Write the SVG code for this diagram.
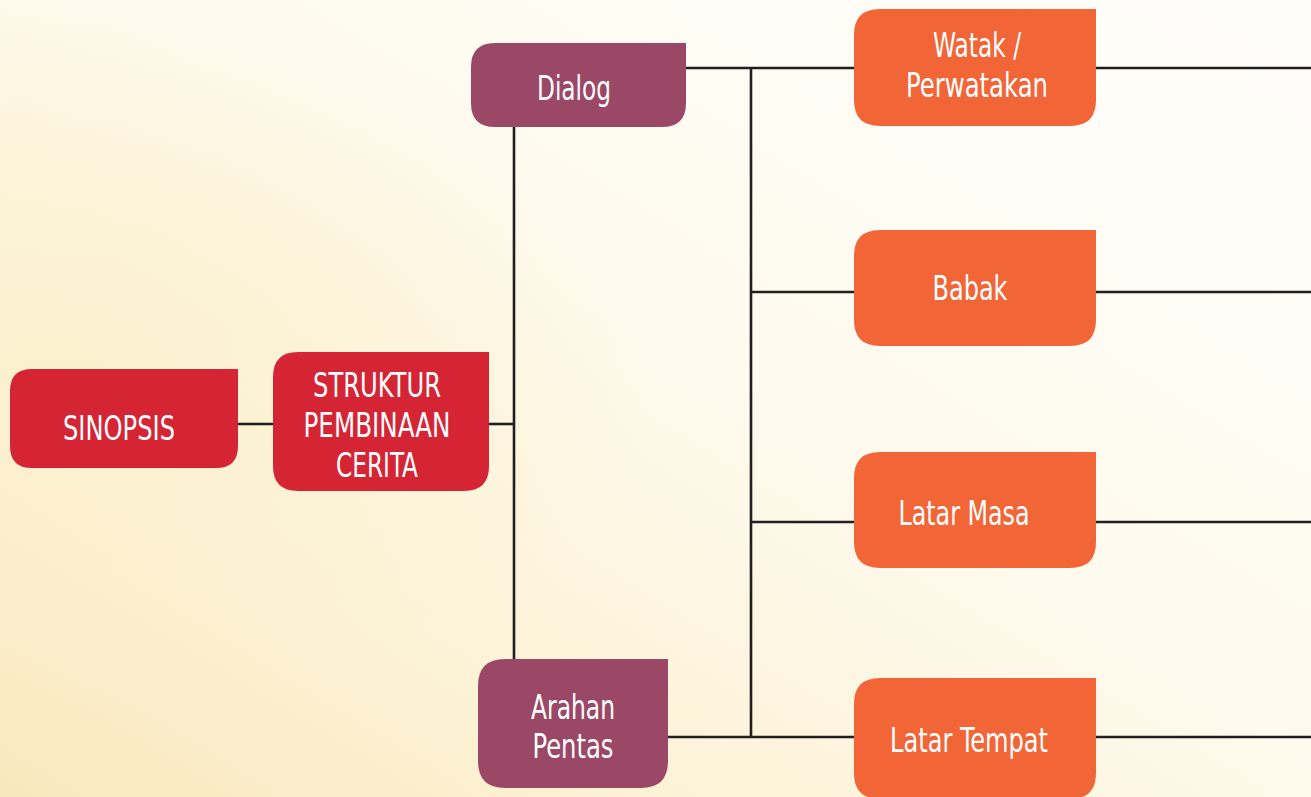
<svg xmlns="http://www.w3.org/2000/svg" width="1311" height="797" viewBox="0 0 1311 797">
  <defs>
    <linearGradient id="bg" x1="1" y1="0" x2="0" y2="1">
      <stop offset="0" stop-color="#fffefb"/>
      <stop offset="0.45" stop-color="#fefaee"/>
      <stop offset="0.75" stop-color="#fcf2d6"/>
      <stop offset="1" stop-color="#f9e8bd"/>
    </linearGradient>
    <radialGradient id="glow" cx="0.05" cy="0.45" r="0.45">
      <stop offset="0" stop-color="#fbefcb" stop-opacity="0.8"/>
      <stop offset="1" stop-color="#fbefcb" stop-opacity="0"/>
    </radialGradient>
  </defs>
  <style>
    .link { fill: none; stroke: #231f20; stroke-width: 2.6; }
    .red { fill: #d52535; }
    .plum { fill: #9b4866; }
    .orange { fill: #f26537; }
    .label { fill: #ffffff; font-family: "Liberation Sans Narrow", "DejaVu Sans Condensed", "Liberation Sans", sans-serif; font-size: 33px; text-anchor: middle; }
  </style>

  <rect width="1311" height="797" fill="url(#bg)"/>
  <rect width="1311" height="797" fill="url(#glow)"/>

  <!-- connectors -->
  <g id="connectors">
    <line class="link" x1="238" y1="424" x2="273" y2="424"/>
    <line class="link" x1="489" y1="424" x2="515" y2="424"/>
    <line class="link" x1="514" y1="127" x2="514" y2="660"/>
    <line class="link" x1="686" y1="68" x2="854" y2="68"/>
    <line class="link" x1="751" y1="68" x2="751" y2="738"/>
    <line class="link" x1="751" y1="292" x2="854" y2="292"/>
    <line class="link" x1="751" y1="522" x2="854" y2="522"/>
    <line class="link" x1="668" y1="737" x2="854" y2="737"/>
    <line class="link" x1="1096" y1="68" x2="1311" y2="68"/>
    <line class="link" x1="1096" y1="292" x2="1311" y2="292"/>
    <line class="link" x1="1096" y1="522" x2="1311" y2="522"/>
    <line class="link" x1="1096" y1="737" x2="1311" y2="737"/>
  </g>

  <!-- boxes: rounded corners except the square top-right corner -->
  <g id="sinopsis">
    <path class="red" d="M32,369 H238 V446 Q238,468 216,468 H32 Q10,468 10,446 V391 Q10,369 32,369 Z"/>
    <text class="label" x="119" y="440" textLength="112" lengthAdjust="spacingAndGlyphs">SINOPSIS</text>
  </g>

  <g id="struktur">
    <path class="red" d="M298,352 H489 V466 Q489,491 464,491 H298 Q273,491 273,466 V377 Q273,352 298,352 Z"/>
    <text class="label" x="377" y="397" textLength="128" lengthAdjust="spacingAndGlyphs">STRUKTUR</text>
    <text class="label" x="377" y="437" textLength="147" lengthAdjust="spacingAndGlyphs">PEMBINAAN</text>
    <text class="label" x="377" y="477" textLength="82" lengthAdjust="spacingAndGlyphs">CERITA</text>
  </g>

  <g id="dialog">
    <path class="plum" d="M495,43 H686 V103 Q686,127 662,127 H495 Q471,127 471,103 V67 Q471,43 495,43 Z"/>
    <text class="label" x="574" y="100" textLength="74" lengthAdjust="spacingAndGlyphs">Dialog</text>
  </g>

  <g id="arahan-pentas">
    <path class="plum" d="M505,659 H668 V761 Q668,788 641,788 H505 Q478,788 478,761 V686 Q478,659 505,659 Z"/>
    <text class="label" x="573" y="719" textLength="84" lengthAdjust="spacingAndGlyphs">Arahan</text>
    <text class="label" x="573" y="758" textLength="81" lengthAdjust="spacingAndGlyphs">Pentas</text>
  </g>

  <g id="watak">
    <path class="orange" d="M880,9 H1096 V100 Q1096,126 1070,126 H880 Q854,126 854,100 V35 Q854,9 880,9 Z"/>
    <text class="label" x="977" y="57" textLength="88" lengthAdjust="spacingAndGlyphs">Watak /</text>
    <text class="label" x="977" y="97" textLength="142" lengthAdjust="spacingAndGlyphs">Perwatakan</text>
  </g>

  <g id="babak">
    <path class="orange" d="M880,230 H1096 V320 Q1096,346 1070,346 H880 Q854,346 854,320 V256 Q854,230 880,230 Z"/>
    <text class="label" x="970" y="300" textLength="75" lengthAdjust="spacingAndGlyphs">Babak</text>
  </g>

  <g id="latar-masa">
    <path class="orange" d="M880,452 H1096 V542 Q1096,568 1070,568 H880 Q854,568 854,542 V478 Q854,452 880,452 Z"/>
    <text class="label" x="964" y="525" textLength="131" lengthAdjust="spacingAndGlyphs">Latar Masa</text>
  </g>

  <g id="latar-tempat">
    <path class="orange" d="M880,678 H1096 V773 Q1096,799 1070,799 H880 Q854,799 854,773 V704 Q854,678 880,678 Z"/>
    <text class="label" x="969" y="752" textLength="158" lengthAdjust="spacingAndGlyphs">Latar Tempat</text>
  </g>
</svg>
